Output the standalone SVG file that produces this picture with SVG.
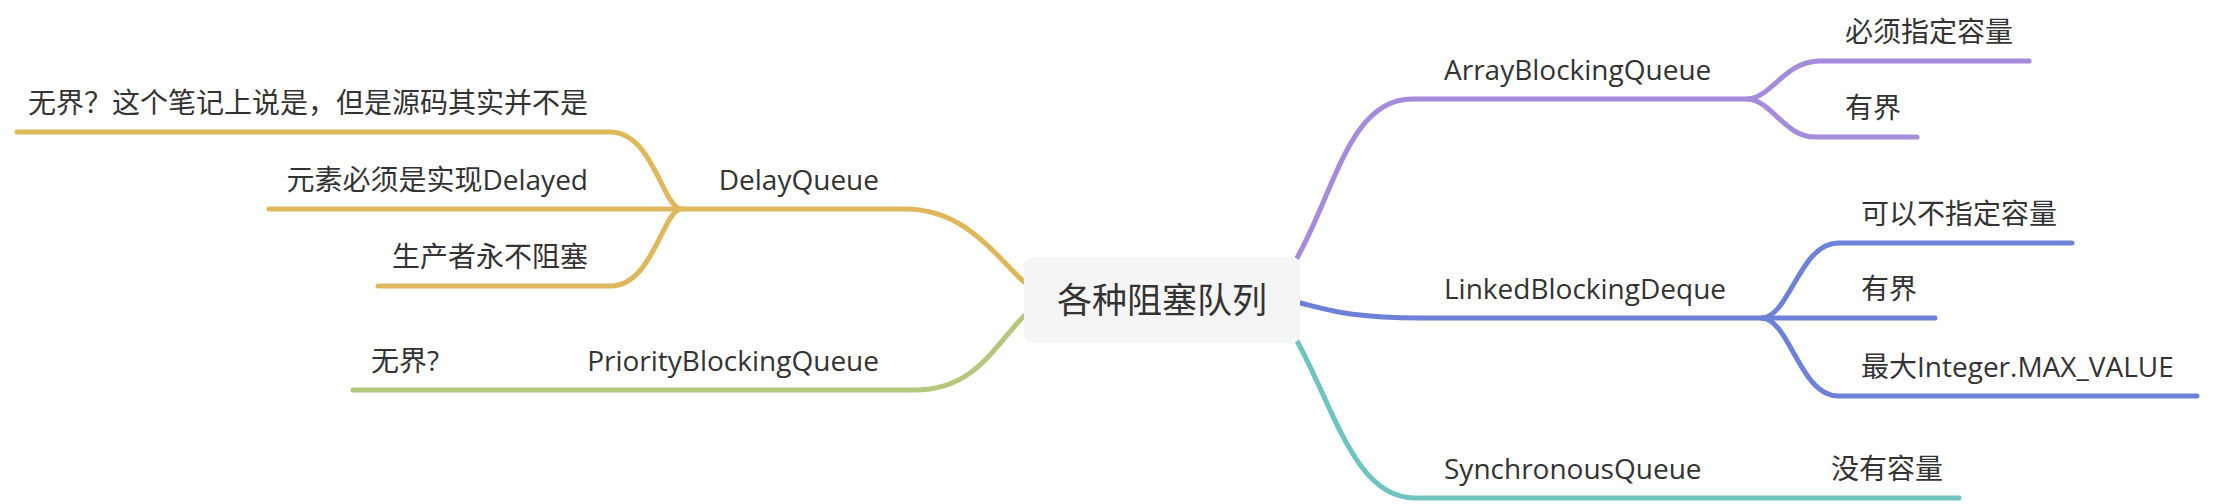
<svg xmlns="http://www.w3.org/2000/svg" width="2214" height="504" viewBox="0 0 2214 504">
<style>
text { font-family: "Open Sans", "Noto Sans CJK SC", sans-serif; font-size: 28px; fill: #333333; }
.root { font-size: 35px; }
.end { text-anchor: end; }
.ln { fill: none; stroke-width: 5; stroke-linecap: round; stroke-linejoin: round; }
.y { stroke: #DFB85C; }
.g { stroke: #B4C87C; }
.p { stroke: #A58BDC; }
.b { stroke: #6E81D8; }
.t { stroke: #6DC4C0; }
</style>
<rect width="2214" height="504" fill="#ffffff"/>
<g id="connectors">
  <path class="ln y" d="M1024,282 C995,255 965,209 905,209 L680,209"/>
  <path class="ln y" d="M680,209 C662,204 652,132 610,132 L17,132"/>
  <path class="ln y" d="M680,209 L269,209"/>
  <path class="ln y" d="M680,209 C662,214 652,286 610,286 L378,286"/>
  <path class="ln g" d="M1024,316 C995,345 975,390 915,390 L353,390"/>
  <path class="ln p" d="M1297,258 C1335,190 1350,99 1412,99 L1748,99"/>
  <path class="ln p" d="M1748,99 C1772,97 1785,61 1820,61 L2029,61"/>
  <path class="ln p" d="M1748,99 C1772,101 1785,137 1815,137 L1917,137"/>
  <path class="ln b" d="M1300,303 C1330,310 1350,318 1420,318 L1762,318"/>
  <path class="ln b" d="M1762,318 C1790,316 1800,243 1838,243 L2072,243"/>
  <path class="ln b" d="M1762,318 L1935,318"/>
  <path class="ln b" d="M1762,318 C1790,320 1800,396 1838,396 L2197,396"/>
  <path class="ln t" d="M1297,341 C1335,410 1355,498 1415,498 L1959,498"/>
</g>
<g id="root">
  <rect x="1024" y="257" width="276" height="86" rx="8" ry="8" fill="#F5F5F5"/>
  <text class="root" x="1162" y="313" text-anchor="middle">各种阻塞队列</text>
</g>
<g id="delayqueue"><text class="end" x="879" y="190">DelayQueue</text></g>
<g id="delay-unbounded"><text class="end" x="588" y="113">无界？这个笔记上说是，但是源码其实并不是</text></g>
<g id="delay-element"><text class="end" x="588" y="190">元素必须是实现Delayed</text></g>
<g id="delay-producer"><text class="end" x="588" y="267">生产者永不阻塞</text></g>
<g id="priorityqueue"><text class="end" x="879" y="371">PriorityBlockingQueue</text></g>
<g id="priority-unbounded"><text class="end" x="439" y="371">无界?</text></g>
<g id="arrayqueue"><text x="1444" y="80">ArrayBlockingQueue</text></g>
<g id="array-capacity"><text x="1845" y="42">必须指定容量</text></g>
<g id="array-bounded"><text x="1845" y="118">有界</text></g>
<g id="linkeddeque"><text x="1444" y="299">LinkedBlockingDeque</text></g>
<g id="linked-capacity"><text x="1861" y="224">可以不指定容量</text></g>
<g id="linked-bounded"><text x="1861" y="299">有界</text></g>
<g id="linked-max"><text x="1861" y="377">最大Integer.MAX_VALUE</text></g>
<g id="syncqueue"><text x="1444" y="479">SynchronousQueue</text></g>
<g id="sync-capacity"><text x="1831" y="479">没有容量</text></g>
</svg>
